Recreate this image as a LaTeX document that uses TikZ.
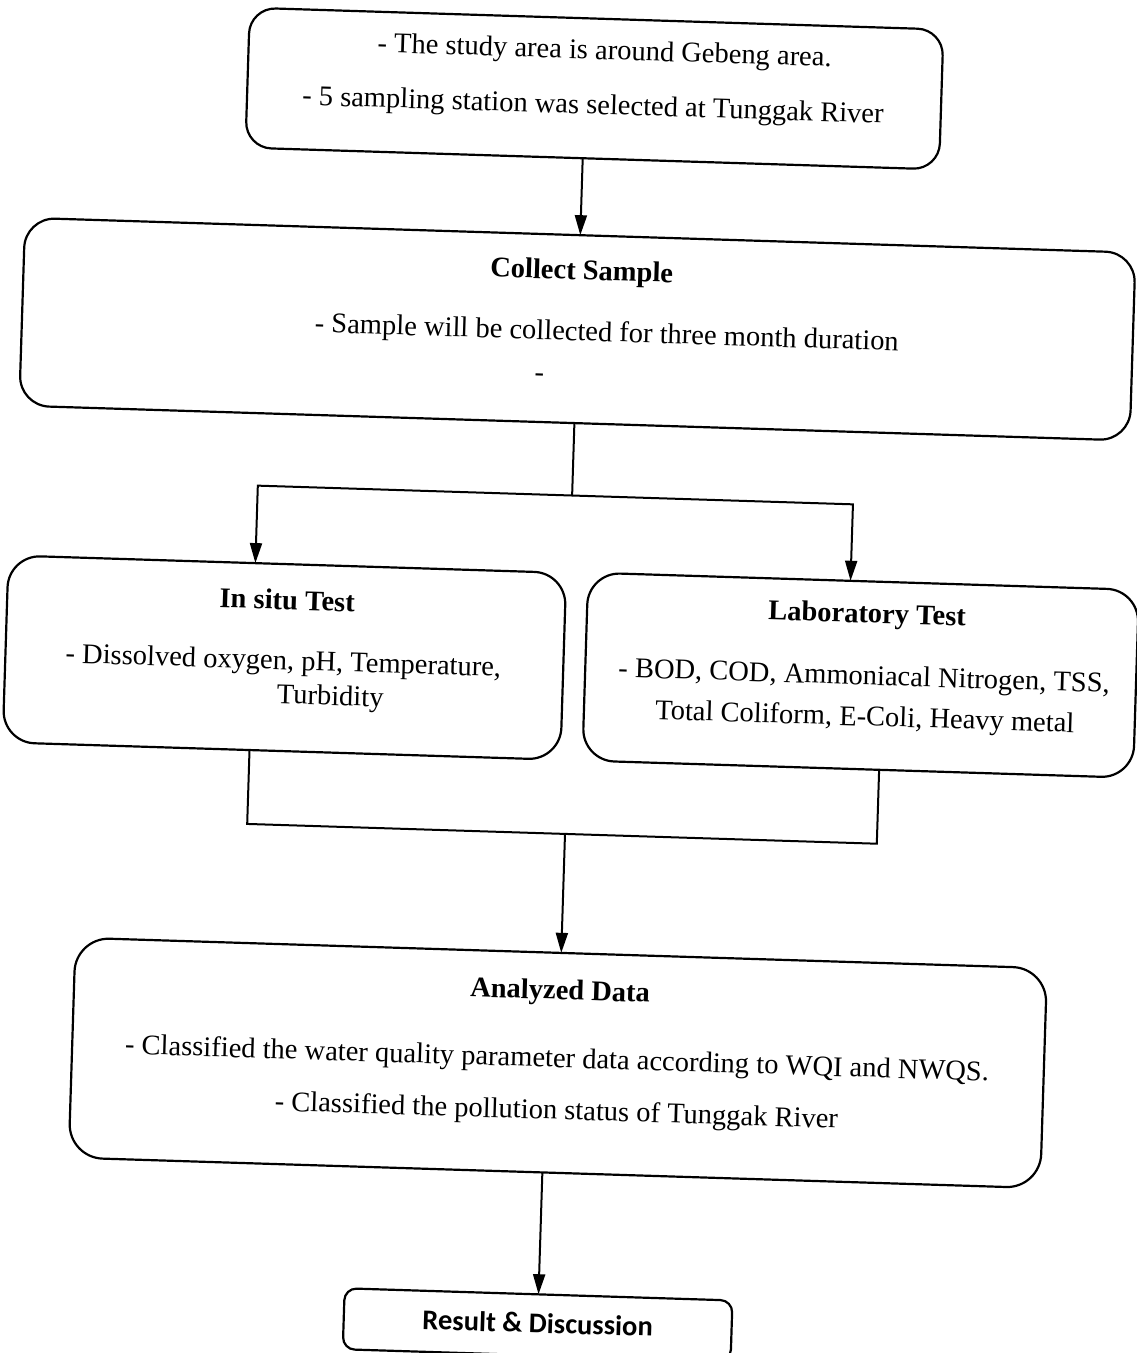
\documentclass[tikz,border=0pt]{standalone}
\usepackage{fontspec}
\setmainfont{Liberation Serif}
\newfontfamily\calibrifont{Carlito}
\usetikzlibrary{arrows.meta}
\begin{document}
\begin{tikzpicture}[x=1pt,y=-1pt,
  box/.style={draw, line width=2.2pt, rounded corners=28pt, inner sep=0pt, outer sep=0pt},
  txt/.style={inner sep=0pt, outer sep=0pt, text height=19pt, text depth=0pt, font=\fontsize{28.5}{32}\selectfont},
  btxt/.style={txt, font=\fontsize{28.5}{32}\selectfont\bfseries},
  conn/.style={line width=2pt},
  arr/.style={conn, -{Triangle[length=20pt,width=12pt]}}]
\fill[white] (0,0) rectangle (1136,1353);
\useasboundingbox (0,0) rectangle (1136,1353);
\begin{scope}[rotate around={-1.8:(568,676)}, transform shape]
  % boxes
  \node[box, minimum width=694pt, minimum height=140pt, rounded corners=26pt] (B1) at (576,88) {};
  \node[box, minimum width=1111pt, minimum height=188pt, rounded corners=30pt] (B2) at (566.5,329) {};
  \node[box, minimum width=558pt, minimum height=187pt, rounded corners=32pt] (B3) at (284,666.5) {};
  \node[box, minimum width=551pt, minimum height=188pt, rounded corners=32pt] (B4) at (860.5,666) {};
  \node[box, minimum width=972pt, minimum height=220pt, rounded corners=34pt] (B5) at (570,1063) {};
  \node[box, minimum width=388pt, minimum height=61pt, rounded corners=12pt] (B6) at (558,1325.5) {};
  % texts
  \node[txt] (T1a) at (585,49) {- The study area is around Gebeng area.};
  \node[txt] (T1b) at (575,104) {- 5 sampling station was selected at Tunggak River};
  \node[btxt] (T2a) at (569,270) {Collect Sample};
  \node[txt] (T2b) at (596,331) {- Sample will be collected for three month duration};
  \node[txt] (T2c) at (530,373) {-};
  \node[btxt] (T3a) at (285,609) {In situ Test};
  \node[txt] (T3b) at (283,669) {- Dissolved oxygen, pH, Temperature,};
  \node[txt] (T3c) at (331,703) {Turbidity};
  \node[btxt] (T4a) at (865,604) {Laboratory Test};
  \node[txt] (T4b) at (864,666) {- BOD, COD, Ammoniacal Nitrogen, TSS,};
  \node[txt] (T4c) at (866,707) {Total Coliform, E-Coli, Heavy metal};
  \node[btxt] (T5a) at (570,990) {Analyzed Data};
  \node[txt] (T5b) at (569,1058) {- Classified the water quality parameter data according to WQI and NWQS.};
  \node[txt] (T5c) at (570,1110) {- Classified the pollution status of Tunggak River};
  \node[txt, font=\calibrifont\fontsize{28.5}{32}\selectfont\bfseries, text height=19pt] (T6) at (558,1324) {Result \& Discussion};
  % connector coordinates
  \coordinate (sp) at (566.5,495.5);
  \coordinate (spL) at (252,495.5);
  \coordinate (spR) at (847.5,495.5);
  \coordinate (jL) at (252,834);
  \coordinate (jR) at (882,834);
  % connectors
  \draw[arr] (B1.south -| B2.north) -- (B2.north);
  \draw[conn] (B2.south) -- (sp);
  \draw[arr] (sp) -- (spL) -- (spL |- B3.north);
  \draw[arr] (sp) -- (spR) -- (spR |- B4.north);
  \draw[conn] (jL |- B3.south) -- (jL) -- (jR) -- (jR |- B4.south);
  \draw[arr] (B5.north |- jL) -- (B5.north);
  \draw[arr] (B5.south -| B6.north) -- (B6.north);
\end{scope}
\end{tikzpicture}
\end{document}
